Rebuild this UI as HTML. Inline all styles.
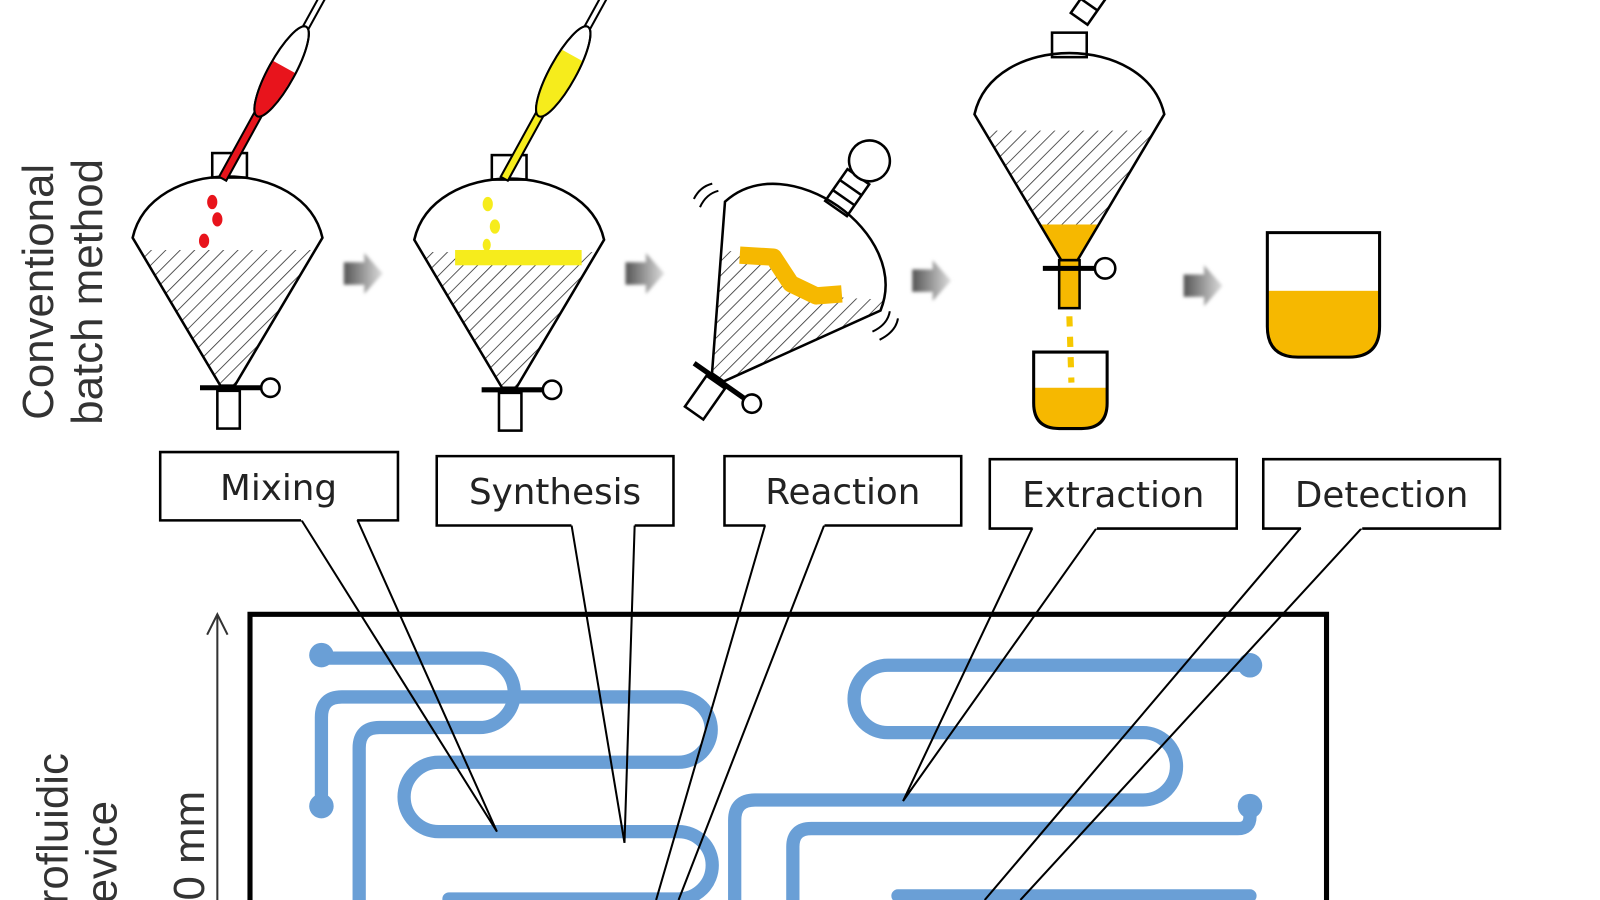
<!DOCTYPE html>
<html><head><meta charset="utf-8"><style>html,body{margin:0;padding:0;background:#fff;width:1600px;height:900px;overflow:hidden}svg{display:block}</style></head>
<body>
<svg width="1600" height="900" viewBox="0 0 1600 900" xmlns="http://www.w3.org/2000/svg" overflow="hidden">
<defs>
<pattern id="h" width="10" height="10" patternUnits="userSpaceOnUse" patternTransform="rotate(45)">
<line x1="0" y1="0" x2="0" y2="10" stroke="#333" stroke-width="1.6"/></pattern>
<linearGradient id="ag" x1="0" x2="1"><stop offset="0" stop-color="#555"/><stop offset="1" stop-color="#ddd"/></linearGradient>
<filter id="bl"><feGaussianBlur stdDeviation="1.5"/></filter>
<g id="arrow"><path d="M0,-11 H20 V-20 L38,0 L20,20 V11 H0 Z" fill="url(#ag)" filter="url(#bl)"/></g>
<clipPath id="fb"><path d="M-93,-50 C-75,-130 75,-130 93,-50 L7,95 L-7,95 Z"/></clipPath>
<clipPath id="f3"><path transform="translate(758,292) rotate(35)" d="M-93,-50 C-75,-130 75,-130 93,-50 L7,95 L-7,95 Z"/></clipPath>
<clipPath id="f3b"><polygon points="600,255 730,245 760,262 780,285 830,292 900,295 900,500 600,500"/></clipPath>
<clipPath id="f4"><path d="M-93,112 C-75,32 75,32 93,112 L8,255 L-8,255 Z"/></clipPath>
<clipPath id="b1"><path d="M1013,345 V395 Q1013,420 1038,420 H1060 Q1085,420 1085,395 V345 Z"/></clipPath>
<clipPath id="b2"><path d="M1242,228 V320 Q1242,350 1272,350 H1322 Q1352,350 1352,320 V228 Z"/></clipPath>
</defs>
<g transform="scale(1.0204)">
<g font-family="Liberation Sans, sans-serif" font-size="43" fill="#333">
<text transform="translate(52,286) rotate(-90)" text-anchor="middle">Conventional</text>
<text transform="translate(100,286) rotate(-90)" text-anchor="middle">batch method</text>
<text transform="translate(66,738) rotate(-90)" text-anchor="end">Microfluidic</text>
<text transform="translate(114,785) rotate(-90)" text-anchor="end">device</text>
<text transform="translate(200,775) rotate(-90)" text-anchor="end">20 mm</text>
</g>

<g transform="translate(223,283)" stroke="#000" stroke-width="2.5" fill="none">
<rect x="-15" y="-133" width="34" height="24" fill="#fff"/>
<g clip-path="url(#fb)"><rect x="-100" y="-38" width="200" height="140" fill="url(#h)" stroke="none"/></g>
<path d="M-93,-50 C-75,-130 75,-130 93,-50 L7,95 L-7,95 Z"/>
<rect x="-10" y="100" width="22" height="37" fill="#fff"/>
<line x1="-27" y1="97" x2="33" y2="97" stroke-width="5"/>
<circle cx="42" cy="97" r="9" fill="#fff"/>
</g>
<g fill="#e8141c">
<ellipse cx="208" cy="198" rx="5" ry="7"/><ellipse cx="213" cy="215" rx="5" ry="7"/><ellipse cx="200" cy="236" rx="5" ry="7"/>
</g>
<g transform="translate(276,70) rotate(28.8)" stroke="#000" stroke-width="2">
<rect x="-4" y="40" width="8" height="80" fill="#e8141c"/>
<line x1="-3" y1="-120" x2="-3" y2="-45"/><line x1="3" y1="-120" x2="3" y2="-45"/>
<ellipse cx="0" cy="0" rx="13" ry="50" fill="#fff"/>
<path d="M-12,-5 H12 A13,50 0 0 1 0,50 A13,50 0 0 1 -12,-5Z" fill="#e8141c" stroke="none"/>
<ellipse cx="0" cy="0" rx="13" ry="50" fill="none"/>
</g>

<g transform="translate(499,285)" stroke="#000" stroke-width="2.5" fill="none">
<rect x="-17" y="-133" width="34" height="24" fill="#fff"/>
<g clip-path="url(#fb)"><rect x="-100" y="-38" width="200" height="140" fill="url(#h)" stroke="none"/></g>
<path d="M-93,-50 C-75,-130 75,-130 93,-50 L7,95 L-7,95 Z"/>
<rect x="-10" y="100" width="22" height="37" fill="#fff"/>
<line x1="-27" y1="97" x2="33" y2="97" stroke-width="5"/>
<circle cx="42" cy="97" r="9" fill="#fff"/>
</g>
<rect x="446" y="245" width="124" height="15" fill="#f6ec1c"/>
<g fill="#f6ec1c"><ellipse cx="478" cy="200" rx="5" ry="7"/><ellipse cx="485" cy="222" rx="5" ry="7"/><ellipse cx="477" cy="240" rx="4" ry="6"/></g>
<g transform="translate(552,70) rotate(28.8)" stroke="#000" stroke-width="2">
<rect x="-4" y="40" width="8" height="80" fill="#f6ec1c"/>
<line x1="-3" y1="-120" x2="-3" y2="-45"/><line x1="3" y1="-120" x2="3" y2="-45"/>
<ellipse cx="0" cy="0" rx="13" ry="50" fill="#fff"/>
<path d="M-12,-18 H12 A13,50 0 0 1 0,50 A13,50 0 0 1 -12,-18Z" fill="#f6ec1c" stroke="none"/>
<ellipse cx="0" cy="0" rx="13" ry="50" fill="none"/>
</g>

<g clip-path="url(#f3)"><g clip-path="url(#f3b)"><rect x="600" y="150" width="300" height="300" fill="url(#h)"/></g></g>
<g transform="translate(758,292) rotate(35)" stroke="#000" stroke-width="2.5" fill="none">
<rect x="-13" y="-145" width="26" height="38" fill="#fff"/>
<line x1="-13" y1="-132" x2="13" y2="-132"/><line x1="-13" y1="-120" x2="13" y2="-120"/>
<circle cx="0" cy="-164" r="20" fill="#fff"/>
<path d="M-93,-50 C-75,-130 75,-130 93,-50 L7,95 L-7,95 Z"/>
<rect x="-10" y="100" width="22" height="37" fill="#fff"/>
<line x1="-27" y1="97" x2="33" y2="97" stroke-width="5"/>
<circle cx="42" cy="97" r="9" fill="#fff"/>
</g>
<polyline points="725,250 758,252 775,278 800,290 825,288" fill="none" stroke="#f6b800" stroke-width="17" stroke-linejoin="round"/>
<g stroke="#000" stroke-width="2" fill="none">
<path d="M680,195 Q686,183 698,180"/><path d="M686,203 Q692,190 704,187"/>
<path d="M855,325 Q870,318 872,305"/><path d="M862,333 Q878,325 880,312"/>
</g>

<g transform="translate(1048,0)" stroke="#000" stroke-width="2.5" fill="none">
<g transform="translate(5,25) rotate(35)"><rect x="-10" y="-40" width="20" height="32" fill="#fff"/><line x1="-10" y1="-25" x2="10" y2="-25"/></g>
<rect x="-17" y="32" width="34" height="24" fill="#fff"/>
<g clip-path="url(#f4)"><rect x="-100" y="128" width="200" height="92" fill="url(#h)" stroke="none"/><rect x="-100" y="220" width="200" height="40" fill="#f6b800" stroke="none"/></g>
<path d="M-93,112 C-75,32 75,32 93,112 L8,255 L-8,255 Z"/>
<rect x="-10" y="255" width="20" height="47" fill="#f6b800"/>
<line x1="-26" y1="263" x2="25" y2="263" stroke-width="5"/>
<circle cx="35" cy="263" r="10" fill="#fff"/>
</g>
<line x1="1048" y1="310" x2="1050" y2="375" stroke="#f6c800" stroke-width="6" stroke-dasharray="10 10"/>
<g clip-path="url(#b1)"><rect x="1000" y="380" width="100" height="50" fill="#f6b800"/></g>
<path d="M1013,345 V395 Q1013,420 1038,420 H1060 Q1085,420 1085,395 V345 Z" fill="none" stroke="#000" stroke-width="3"/>
<g clip-path="url(#b2)"><rect x="1230" y="285" width="140" height="80" fill="#f6b800"/></g>
<path d="M1242,228 V320 Q1242,350 1272,350 H1322 Q1352,350 1352,320 V228 Z" fill="none" stroke="#000" stroke-width="3"/>

<use href="#arrow" x="337" y="268"/>
<use href="#arrow" x="613" y="268"/>
<use href="#arrow" x="894" y="275"/>
<use href="#arrow" x="1160" y="280"/>

<g fill="none" stroke="#6a9fd6" stroke-width="13" stroke-linecap="round" stroke-linejoin="round">
<path d="M315,645 H470 A34,34 0 0 1 470,713 H372 Q352,713 352,733 V882"/>
<path d="M315,790 V703 Q315,683 335,683 H665 A32,32 0 0 1 665,747 H430 A34,34 0 0 0 430,815 H665 A33,33 0 0 1 665,881 H440"/>
<path d="M1225,652 H870 A33,33 0 0 0 870,718 H1120 A33,33 0 0 1 1120,784 H740 Q720,784 720,804 V882"/>
<path d="M1225,790 V800 Q1225,812 1213,812 H795 Q777,812 777,830 V882"/>
<path d="M1225,878 H880"/>
</g>
<g fill="#6a9fd6"><circle cx="315" cy="642" r="12"/><circle cx="315" cy="790" r="12"/><circle cx="1225" cy="652" r="12"/><circle cx="1225" cy="790" r="12"/></g>

<path d="M245,882 V602 H1300 V882" fill="none" stroke="#000" stroke-width="5"/>
<line x1="213" y1="882" x2="213" y2="602" stroke="#333" stroke-width="2"/>
<path d="M203,622 L213,602 L223,622" fill="none" stroke="#333" stroke-width="2"/>

<g stroke="#000" stroke-width="2" fill="none">
<path d="M295,509 L487,815 L350,509"/>
<path d="M560,514 L612,826 L622,514"/>
<path d="M750,514 L643,882 M808,514 L665,882"/>
<path d="M1012,517 L885,785 L1075,517"/>
<path d="M1275,517 L965,882 M1335,517 L1000,882"/>
</g>
<g stroke="#000" stroke-width="2.5" fill="#fff">
<path d="M295,510 H157 V443 H390 V510 H350"/>
<path d="M560,515 H428 V447 H660 V515 H622"/>
<path d="M750,515 H710 V447 H942 V515 H808"/>
<path d="M1012,518 H970 V450 H1212 V518 H1075"/>
<path d="M1275,518 H1238 V450 H1470 V518 H1335"/>
</g>
<g font-family="DejaVu Sans, sans-serif" font-size="35" fill="#222" text-anchor="middle">
<text x="273" y="490">Mixing</text>
<text x="544" y="494">Synthesis</text>
<text x="826" y="494">Reaction</text>
<text x="1091" y="497">Extraction</text>
<text x="1354" y="497">Detection</text>
</g>
</g>
</svg>
</body></html>
